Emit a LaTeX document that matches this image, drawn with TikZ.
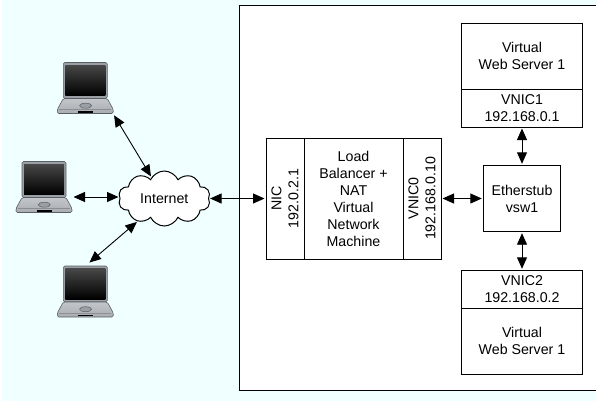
\documentclass[tikz,border=0pt]{standalone}
\usepackage{fontspec}
\setmainfont{Liberation Sans}
\usepackage{xcolor}
\definecolor{mBackCyan}{HTML}{F0FFFF}
\definecolor{mLidGray}{HTML}{9A9FA6}
\definecolor{mBaseGray}{HTML}{A9ADB2}
\definecolor{mEdgeGray}{HTML}{5A5F66}
\usetikzlibrary{positioning, arrows.meta, shapes.symbols}
\tikzset{
  x=1pt, y=-1pt,
  font=\fontsize{14.2}{17}\selectfont,
  >={Triangle[length=11.5pt,width=10pt]},
  hostn/.style={draw, line width=0.9pt, fill=white, anchor=north west, minimum width=372pt, minimum height=385pt, outer sep=0pt},
  webn/.style={draw, line width=1pt, align=center, minimum width=121pt, minimum height=65.7pt, inner sep=0pt, outer sep=0pt},
  vnicn/.style={draw, line width=1pt, align=center, minimum width=121pt, minimum height=38pt, inner sep=0pt, outer sep=0pt},
  ethern/.style={draw, line width=1pt, align=center, minimum width=77.4pt, minimum height=66.4pt, inner sep=0pt, outer sep=0pt},
  lbn/.style={draw, line width=1pt, align=center, minimum width=99pt, minimum height=121pt, inner sep=0pt, outer sep=0pt},
  portn/.style={draw, line width=1pt, align=center, rotate=90, anchor=south, minimum width=121pt, minimum height=38pt, inner sep=0pt, outer sep=0pt},
  cloudn/.style={cloud, draw, line width=1pt, fill=white, cloud puffs=10, cloud puff arc=130, aspect=1.75, minimum width=92pt, minimum height=55pt, inner sep=0pt, outer sep=0pt},
  link/.style={<->, line width=0.9pt, shorten <=1.5pt, shorten >=1.5pt},
  laptop/.pic={
    \node[minimum width=56pt, minimum height=51pt, inner sep=0pt, outer sep=0pt] (-body) at (0,0) {};
    \draw[mEdgeGray, line width=0.6pt, fill=mLidGray, rounded corners=1.5pt] (-22,-26) rectangle (22,10);
    \path[top color=black!72, bottom color=black] (-20,-23.5) rectangle (20,7);
    \draw[mEdgeGray, line width=0.6pt, top color=mBaseGray!70, bottom color=mBaseGray, rounded corners=1.5pt] (-22,10) -- (22,10) -- (28,21) -- (28,25) -- (-28,25) -- (-28,21) -- cycle;
    \draw[mEdgeGray!70, line width=0.4pt] (-26,21) -- (26,21);
    \draw[mEdgeGray, line width=0.5pt, fill=mLidGray] (0.3,17.2) ellipse (6pt and 2.5pt);
    \fill[black] (-7,22.5) rectangle (8,24.2);
  }
}
\begin{document}
\begin{tikzpicture}
        \useasboundingbox (0,0) rectangle (596,402);
        \fill[mBackCyan] (1.5,0) rectangle (596,401);
        \node[hostn] (host) at (239,5.7) {};
        \node[ethern] (ether) at (522,198.5) {Etherstub\\ vsw1};
        \node[vnicn, above=38.3pt of ether] (vnicA) {VNIC1\\ 192.168.0.1};
        \node[webn, above=0pt of vnicA] (webA) {Virtual\\ Web Server 1};
        \node[vnicn, below=38.6pt of ether] (vnicB) {VNIC2\\ 192.168.0.2};
        \node[webn, below=0pt of vnicB] (webB) {Virtual\\ Web Server 1};
        \node[lbn] (balancer) at (353.5,198.5) {Load\\ Balancer +\\ NAT\\ Virtual\\ Network\\ Machine};
        \node[portn] (nic) at (balancer.west) {NIC\\ 192.0.2.1};
        \node[portn, anchor=north] (vnicZ) at (balancer.east) {VNIC0\\ 192.168.0.10};
        \node[cloudn] (internet) at (164.3,198.5) {Internet};
        \pic (lapA) at (85.3,88.5) {laptop};
        \pic (lapB) at (44,187.5) {laptop};
        \pic (lapC) at (85.3,292) {laptop};

        \draw[link] (lapA-body.south east) -- (internet);
        \draw[link] ([yshift=1.5pt]lapB-body.east |- internet.west) -- ([yshift=1.5pt]internet.west);
        \draw[link] (lapC-body.north) ++(3,-3) -- (internet);
        \draw[link] (internet) -- (nic);
        \draw[link] (vnicZ) -- (ether);
        \draw[link] (vnicA) -- (ether);
        \draw[link] (ether) -- (vnicB);
      \end{tikzpicture}
\end{document}
